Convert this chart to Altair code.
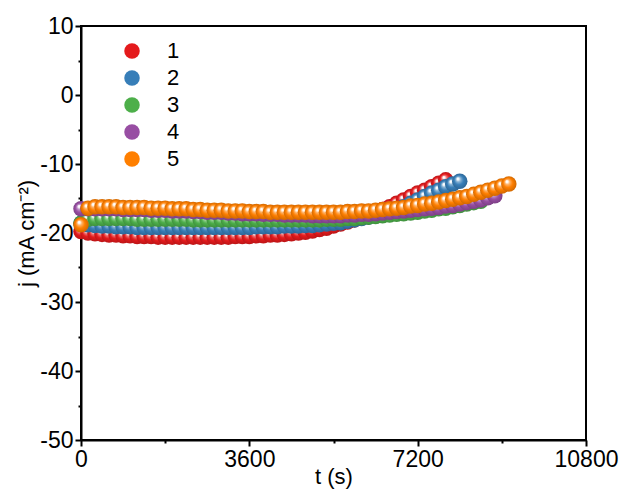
import altair as alt
import pandas as pd

# ---------------- data ----------------
time_s = [0, 150, 300, 450, 600, 750, 900, 1050, 1200, 1350, 1500, 1650, 1800, 1950,
          2100, 2250, 2400, 2550, 2700, 2850, 3000, 3150, 3300, 3450, 3600, 3750, 3900,
          4050, 4200, 4350, 4500, 4650, 4800, 4950, 5100, 5250, 5400, 5550, 5700, 5850,
          6000, 6150, 6300, 6450, 6600, 6750, 6900, 7050, 7200, 7350, 7500, 7650, 7800,
          7950, 8100, 8250, 8400, 8550, 8700, 8850, 9000, 9150]

j1 = [-19.8, -20.0, -20.1, -20.2, -20.3, -20.3, -20.4, -20.4, -20.5, -20.5, -20.5, -20.6,
      -20.6, -20.6, -20.6, -20.6, -20.6, -20.6, -20.6, -20.6, -20.6, -20.6, -20.5, -20.5,
      -20.5, -20.4, -20.4, -20.3, -20.3, -20.2, -20.1, -20.0, -19.9, -19.7, -19.5, -19.3,
      -19.0, -18.7, -18.4, -18.1, -17.8, -17.4, -17.0, -16.6, -16.2, -15.7, -15.2, -14.7,
      -14.2, -13.8, -13.3, -12.8, -12.3]

j2 = [-18.6, -18.8, -18.9, -19.0, -19.0, -19.1, -19.1, -19.1, -19.2, -19.2, -19.2, -19.2,
      -19.2, -19.2, -19.2, -19.2, -19.2, -19.2, -19.2, -19.2, -19.2, -19.2, -19.2, -19.2,
      -19.2, -19.1, -19.1, -19.1, -19.1, -19.0, -19.0, -19.0, -18.9, -18.9, -18.8, -18.7,
      -18.6, -18.5, -18.3, -18.1, -17.9, -17.7, -17.5, -17.2, -16.9, -16.6, -16.2, -15.7,
      -15.2, -14.7, -14.2, -13.8, -13.3, -12.9, -12.5]

j3 = [-18.6, -18.0, -17.9, -17.9, -17.9, -17.9, -17.9, -17.9, -18.0, -18.0, -18.0, -18.0,
      -18.0, -18.0, -18.0, -18.0, -18.1, -18.1, -18.1, -18.1, -18.1, -18.1, -18.1, -18.1,
      -18.1, -18.1, -18.1, -18.1, -18.1, -18.1, -18.1, -18.1, -18.1, -18.1, -18.1, -18.0,
      -18.0, -18.0, -17.9, -17.9, -17.8, -17.7, -17.6, -17.5, -17.4, -17.3, -17.2, -17.1,
      -17.0, -16.8, -16.7, -16.5, -16.4, -16.2, -16.0, -15.8, -15.6, -15.4]

j4 = [-16.5, -16.5, -16.5, -16.5, -16.5, -16.5, -16.6, -16.6, -16.6, -16.6, -16.7, -16.7,
      -16.7, -16.8, -16.8, -16.8, -16.9, -16.9, -17.0, -17.0, -17.0, -17.1, -17.1, -17.2,
      -17.2, -17.2, -17.3, -17.3, -17.3, -17.4, -17.4, -17.4, -17.4, -17.5, -17.5, -17.5,
      -17.5, -17.5, -17.4, -17.4, -17.3, -17.3, -17.2, -17.1, -17.0, -16.9, -16.8, -16.7,
      -16.6, -16.5, -16.4, -16.3, -16.1, -16.0, -15.8, -15.6, -15.4, -15.2, -14.9, -14.6]

j5 = [-18.8, -16.4, -16.2, -16.2, -16.2, -16.2, -16.3, -16.3, -16.3, -16.3, -16.4, -16.4,
      -16.4, -16.5, -16.5, -16.5, -16.6, -16.6, -16.7, -16.7, -16.7, -16.8, -16.8, -16.8,
      -16.9, -16.9, -16.9, -17.0, -17.0, -17.0, -17.0, -17.0, -17.0, -17.0, -17.0, -17.0,
      -17.0, -17.0, -16.9, -16.9, -16.8, -16.8, -16.7, -16.6, -16.5, -16.4, -16.3, -16.1,
      -16.0, -15.8, -15.7, -15.5, -15.3, -15.1, -14.9, -14.7, -14.4, -14.1, -13.8, -13.5,
      -13.2, -12.9]

series_names = ["1", "2", "3", "4", "5"]
series_values = [j1, j2, j3, j4, j5]
series_colors = ["#E41A1C", "#377EB8", "#4DAF4A", "#984EA3", "#FF7F00"]

x_major = [0, 3600, 7200, 10800]
x_minor = [1800, 5400, 9000]
y_major = [-50, -40, -30, -20, -10, 0, 10]
y_minor = [-45, -35, -25, -15, -5, 5]

# ---------------- helpers ----------------
FONT = "Liberation Sans"
BALL = 240


def mix(c1, c2, f):
    a = [int(c1[i:i + 2], 16) for i in (1, 3, 5)]
    b = [int(c2[i:i + 2], 16) for i in (1, 3, 5)]
    return "#" + "".join(f"{round(x + (y - x) * f):02x}" for x, y in zip(a, b))


def sphere(col):
    return alt.RadialGradient(
        gradient="radial",
        x1=0.36, y1=0.32, r1=0.0,
        x2=0.5, y2=0.5, r2=0.5,
        stops=[
            alt.GradientStop(offset=0.0, color="#ffffff"),
            alt.GradientStop(offset=0.12, color="#ffffff"),
            alt.GradientStop(offset=0.32, color=mix("#ffffff", col, 0.6)),
            alt.GradientStop(offset=0.6, color=col),
            alt.GradientStop(offset=1.0, color=mix(col, "#000000", 0.18)),
        ],
    )


frames = []
for name, vals in zip(series_names, series_values):
    frames.append(pd.DataFrame({"t": time_s[:len(vals)], "j": vals, "series": name}))
all_df = pd.concat(frames, ignore_index=True)

x_scale = alt.Scale(domain=[0, 10800], nice=False, zero=False)
y_scale = alt.Scale(domain=[-50, 10], nice=False, zero=False)

axis_common = dict(grid=False, domainColor="black", domainWidth=2, tickColor="black",
                   tickWidth=2, labelColor="black", labelFont=FONT, labelFontSize=23,
                   titleFont=FONT, titleFontSize=22, titleFontWeight="normal",
                   titleColor="black", labelExpr="'' + datum.value", labelFlush=False,
                   labelOverlap=False)

x_axis_main = alt.Axis(values=x_major, title="t (s)", orient="bottom", tickSize=6,
                       labelPadding=2, titlePadding=-5, **axis_common)
y_axis_main = alt.Axis(values=y_major, title="j (mA cm⁻²)", orient="left", tickSize=6,
                       labelPadding=2, titlePadding=1, **axis_common)

x_axis_minor = alt.Axis(values=x_minor, orient="bottom", labels=False, domain=False,
                        title=None, grid=False, tickSize=3, tickWidth=2, tickColor="black")
y_axis_minor = alt.Axis(values=y_minor, orient="left", labels=False, domain=False,
                        title=None, grid=False, tickSize=3, tickWidth=2, tickColor="black")

legend_layer = alt.Chart(all_df).mark_circle(opacity=0, size=BALL).encode(
    x=alt.X("t:Q", scale=x_scale, axis=x_axis_minor),
    y=alt.Y("j:Q", scale=y_scale, axis=y_axis_minor),
    color=alt.Color(
        "series:N",
        scale=alt.Scale(domain=series_names, range=series_colors),
        legend=alt.Legend(
            title=None, orient="none", legendX=40, legendY=14,
            symbolType="circle", symbolSize=BALL, symbolOpacity=1, symbolStrokeWidth=0,
            labelFont=FONT, labelFontSize=22, labelColor="black",
            labelOffset=24, rowPadding=5, padding=0,
        ),
    ),
)

layers = [legend_layer]
for i, (name, col, df) in enumerate(zip(series_names, series_colors, frames)):
    layers.append(
        alt.Chart(df).mark_circle(size=BALL, opacity=1, fill=sphere(col), strokeWidth=0).encode(
            x=alt.X("t:Q", scale=x_scale, axis=x_axis_main if i == 0 else None),
            y=alt.Y("j:Q", scale=y_scale, axis=y_axis_main if i == 0 else None),
        )
    )

chart = alt.layer(*layers).resolve_axis(x="independent", y="independent").properties(
    width=505, height=414,
    autosize=alt.AutoSizeParams(type="none"),
    padding={"left": 81, "top": 26, "right": 38, "bottom": 50},
    background="white",
).configure_view(stroke="black", strokeWidth=2)

chart.save("out.html", embed_options={"renderer": "svg", "actions": False})
